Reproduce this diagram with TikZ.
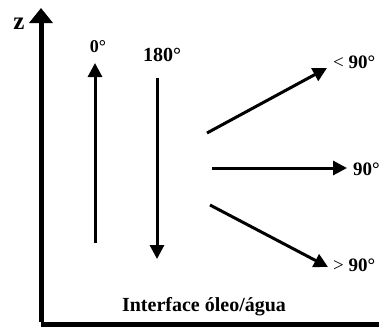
\documentclass[tikz,border=0pt]{standalone}
\usepackage{fontspec}
\setmainfont{Liberation Serif}
\usetikzlibrary{arrows.meta}
\begin{document}
\begin{tikzpicture}[x=1pt,y=-1pt,
  axisline/.style={line width=5pt,-{Triangle[length=15pt,width=23pt]}},
  vec/.style={line width=3pt,-{Triangle[length=14pt,width=14pt]}},
  lbl/.style={inner sep=0pt,font=\bfseries\fontsize{19}{21}\selectfont},
  anglelbl/.style={lbl,anchor=west}]
\useasboundingbox (0,0) rectangle (379,327);
% axes
\coordinate (origin) at (41,324);
\coordinate (ztop) at (41,8);
\coordinate (xend) at (382,324);
\draw[line width=5pt] (origin) -- (xend);
\draw[axisline] ([yshift=2.5pt]origin) -- (ztop);
\node[lbl,font=\bfseries\fontsize{25}{27}\selectfont] (zlbl) at (19,24) {z};
% contact-angle vectors
\coordinate (a0s) at (95,243);   \coordinate (a0e) at (95,63);
\coordinate (a180s) at (157,78); \coordinate (a180e) at (157,259);
\coordinate (altS) at (207,133); \coordinate (altE) at (327,68);
\coordinate (a90S) at (212,168); \coordinate (a90E) at (347,168);
\coordinate (agtS) at (210,205); \coordinate (agtE) at (328,267);
\draw[vec] (a0s) -- (a0e);
\draw[vec] (a180s) -- (a180e);
\draw[vec] (altS) -- (altE);
\draw[vec] (a90S) -- (a90E);
\draw[vec] (agtS) -- (agtE);
% labels
\node[lbl,font=\bfseries\fontsize{18}{20}\selectfont] (l0) at (98,47) {0°};
\node[lbl,font=\bfseries\fontsize{20}{22}\selectfont] (l180) at (162,55) {180°};
\node[anglelbl] (llt) at (333,62) {\textmd{<} 90°};
\node[anglelbl] (l90) at (353,169) {90°};
\node[anglelbl] (lgt) at (333,265) {\textmd{>} 90°};
\node[lbl,font=\bfseries\fontsize{20}{22}\selectfont] (iface) at (204,307) {Interface óleo/água};
\end{tikzpicture}
\end{document}
